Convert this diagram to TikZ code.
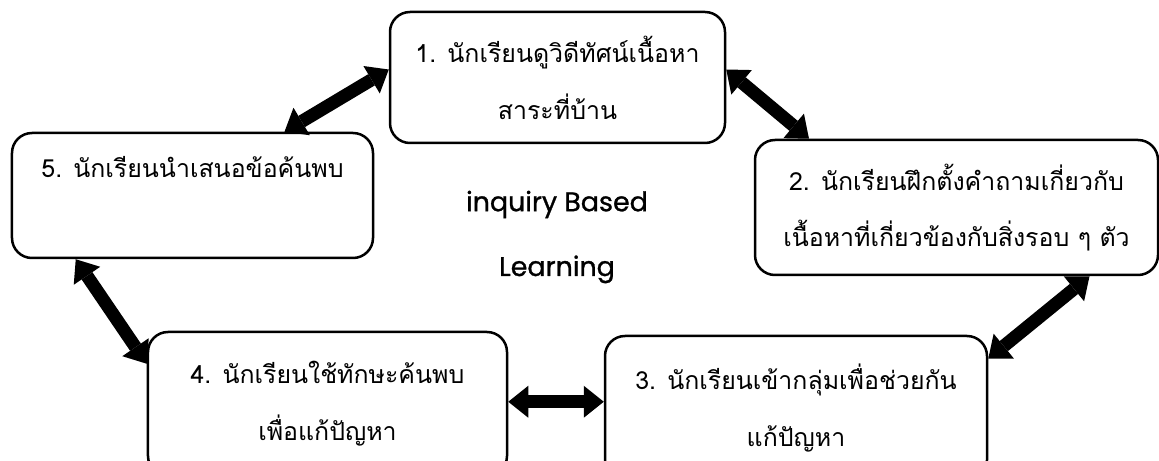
\documentclass[tikz,border=0pt]{standalone}
\usepackage{fontspec}
\newfontfamily\thaifont[Script=Thai]{Loma}
\newfontfamily\headfont[FakeBold=1]{Poppins}
\usetikzlibrary{arrows.meta, calc}
\tikzset{>=stealth}

\begin{document}
\begin{tikzpicture}[
    x=1bp, y=-1bp,
    phase/.style={draw, line width=2.5bp, rounded corners=20bp, align=center,
                  inner sep=0pt, fill=white,
                  font=\thaifont\fontsize{25}{57}\selectfont},
    flow/.style={line width=13bp,
                 {Triangle[width=32bp, length=20bp, line width=0pt]}-{Triangle[width=32bp, length=20bp, line width=0pt]}},
  ]
  \useasboundingbox (0,0) rectangle (1159,461);
  \clip (0,0) rectangle (1159,461);
  \node[phase, minimum width=335bp, minimum height=131bp] (s1) at (557.5,77.5)
    {1. นักเรียนดูวิดีทัศน์เนื้อหา\\สาระที่บ้าน};
  \node[phase, minimum width=403bp, minimum height=135bp] (s2) at (956.5,207.5)
    {2. นักเรียนฝึกตั้งคำถามเกี่ยวกับ\\เนื้อหาที่เกี่ยวข้องกับสิ่งรอบ ๆ ตัว};
  \node[phase, minimum width=382bp, minimum height=144bp] (s3) at (796,408)
    {3. นักเรียนเข้ากลุ่มเพื่อช่วยกัน\\แก้ปัญหา};
  \node[phase, minimum width=359bp, minimum height=144bp] (s4) at (327.5,404)
    {4. นักเรียนใช้ทักษะค้นพบ\\เพื่อแก้ปัญหา};
  \node[phase, minimum width=361bp, minimum height=125bp] (s5) at (192.5,195.5)
    {5. นักเรียนนำเสนอข้อค้นพบ\\\mbox{}};
  \node[align=center, font=\headfont\fontsize{27}{65}\selectfont] (ibl) at (557,237)
    {inquiry Based\\Learning};
  \draw[flow] ($(s1.west)+(0,-8)$) -- ($(s5.north)+(92,0)$);
  \draw[flow] ($(s1.east)+(0,-8)$) -- ($(s2.north)+(-147.5,0)$);
  \draw[flow] ($(s2.south)+(133,0)$) -- ($(s3.north east)+(0,24)$);
  \draw[flow] ($(s3.north west)+(0,67)$) -- ($(s4.north east)+(0,71)$);
  \draw[flow] ($(s5.south west)+(65,0)$) -- ($(s4.north west)+(0,33)$);
\end{tikzpicture}
\end{document}
